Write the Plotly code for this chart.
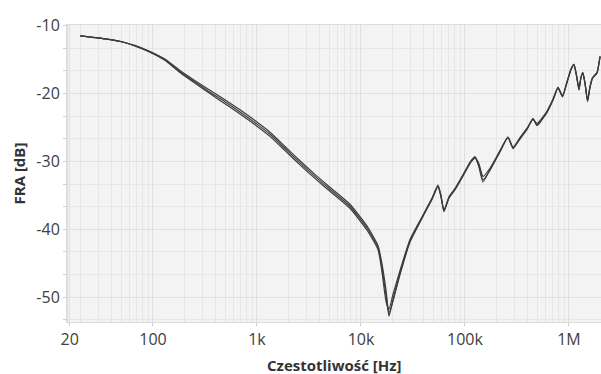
import plotly.graph_objects as go

# Frequency points (Hz)
freq = [20, 33, 48, 67, 94, 130, 182, 254, 353, 492, 687, 1000, 1334, 1860, 2590,
        3610, 5030, 7830, 11400, 14600, 15900, 17400, 18600, 20300, 23700, 29600,
        39500, 48200, 55000, 58800, 62800, 70200, 80000, 97800, 114000, 125000,
        136000, 149000, 174000, 217000, 259000, 290000, 338000, 395000, 451000,
        493000, 614000, 702000, 784000, 866000, 957000, 1045000, 1117000, 1180000,
        1248000, 1300000, 1360000, 1430000, 1510000, 1590000, 1680000, 1860000, 1990000]

# FRA magnitude of three measurements (dB)
fra_a = [-11.5, -11.9, -12.3, -13.0, -13.9, -15.0, -16.8, -18.3, -19.8, -21.2, -22.7, -24.5,
         -26.0, -28.1, -30.2, -32.2, -34.1, -36.6, -39.8, -42.7, -45.6, -49.7, -52.8, -50.4,
         -46.5, -41.7, -38.0, -35.5, -33.6, -35.1, -37.4, -35.3, -34.1, -31.8, -30.0, -29.3,
         -30.8, -33.0, -31.2, -28.5, -26.4, -28.1, -26.6, -25.2, -23.7, -24.7, -22.7, -20.9,
         -19.1, -20.5, -18.3, -16.4, -15.7, -17.3, -19.5, -17.7, -16.9, -18.6, -21.2, -19.1,
         -17.7, -16.9, -14.5]
fra_b = [-11.5, -11.9, -12.3, -13.0, -13.9, -15.1, -16.9, -18.5, -20.0, -21.5, -23.0, -24.8,
         -26.3, -28.4, -30.5, -32.5, -34.4, -36.9, -40.1, -43.0, -46.2, -50.6, -51.8, -49.6,
         -46.1, -41.5, -37.9, -35.4, -33.5, -35.0, -37.2, -35.2, -34.0, -31.7, -29.9, -29.4,
         -30.3, -32.2, -31.0, -28.4, -26.4, -27.9, -26.5, -25.1, -23.8, -24.4, -22.6, -20.8,
         -19.1, -20.3, -18.3, -16.4, -15.7, -17.2, -19.4, -17.7, -16.9, -18.5, -21.0, -19.0,
         -17.7, -16.9, -14.5]
fra_c = [-11.5, -11.9, -12.3, -12.9, -13.8, -14.9, -16.6, -18.1, -19.5, -20.9, -22.4, -24.2,
         -25.7, -27.8, -29.9, -31.9, -33.8, -36.3, -39.5, -42.4, -45.0, -48.9, -52.4, -50.6,
         -46.7, -41.9, -38.1, -35.6, -33.7, -35.2, -37.3, -35.4, -34.2, -31.9, -30.1, -29.5,
         -30.6, -32.7, -31.3, -28.6, -26.5, -28.0, -26.7, -25.3, -23.7, -24.6, -22.8, -21.0,
         -19.2, -20.4, -18.4, -16.5, -15.8, -17.4, -19.3, -17.8, -17.0, -18.7, -21.1, -19.2,
         -17.8, -17.0, -14.6]

x_tick_vals = [15.8, 100, 1000, 10000, 100000, 1000000]
x_tick_text = ["20", "100", "1k", "10k", "100k", "1M"]
y_tick_vals = [-10, -20, -30, -40, -50]
y_tick_text = ["-10", "-20", "-30", "-40", "-50"]

minor_x = [m * 10 ** e for e in range(1, 7) for m in range(2, 10)]
minor_y = [-10 - k * 10 / 3 for k in range(1, 14)]

fig = go.Figure()
for series in (fra_a, fra_b, fra_c):
    fig.add_trace(go.Scatter(x=freq, y=series, mode="lines",
                             line=dict(color="#3c3c3c", width=1.2, shape="spline", smoothing=0.5),
                             showlegend=False, hoverinfo="skip"))

font_fam = "Open Sans, Liberation Sans, sans-serif"
fig.update_layout(
    width=601, height=374,
    margin=dict(l=68, r=0, t=25, b=52),
    paper_bgcolor="white",
    plot_bgcolor="#f3f3f3",
    font=dict(family=font_fam, size=16, color="#404040"),
    xaxis=dict(
        type="log", range=[1.183, 6.308], automargin=False,
        tickmode="array", tickvals=x_tick_vals, ticktext=x_tick_text,
        showgrid=True, gridcolor="#e0e0e0", gridwidth=1,
        ticks="outside", ticklen=3, tickcolor="#cfcfcf",
        minor=dict(tickmode="array", tickvals=minor_x, showgrid=True,
                   gridcolor="#e6e6e6", ticks=""),
        showline=True, linecolor="#dcdcdc", linewidth=1, mirror=True,
        zeroline=False,
    ),
    yaxis=dict(
        range=[-53.65, -9.9], automargin=False,
        tickmode="array", tickvals=y_tick_vals, ticktext=y_tick_text,
        showgrid=True, gridcolor="#e0e0e0", gridwidth=1,
        ticks="outside", ticklen=3, tickcolor="#cfcfcf",
        minor=dict(tickmode="array", tickvals=minor_y, showgrid=True,
                   gridcolor="#e6e6e6", ticks="outside", ticklen=3, tickcolor="#cfcfcf"),
        showline=True, linecolor="#dcdcdc", linewidth=2, mirror=True,
        zeroline=False,
    ),
    annotations=[
        dict(text="<b>Czestotliwość [Hz]</b>", xref="paper", yref="paper",
             x=0.5, y=0, xanchor="center", yanchor="middle", yshift=-43,
             showarrow=False, font=dict(size=15, color="#333333")),
        dict(text="<b>FRA [dB]</b>", xref="paper", yref="paper",
             x=0, y=0.5, xanchor="center", yanchor="middle", xshift=-50,
             textangle=-90, showarrow=False, font=dict(size=15, color="#333333")),
    ],
)

fig.write_html("out.html", config={"displayModeBar": False},
               post_script="document.body.style.margin='0';document.body.style.overflow='hidden';")
